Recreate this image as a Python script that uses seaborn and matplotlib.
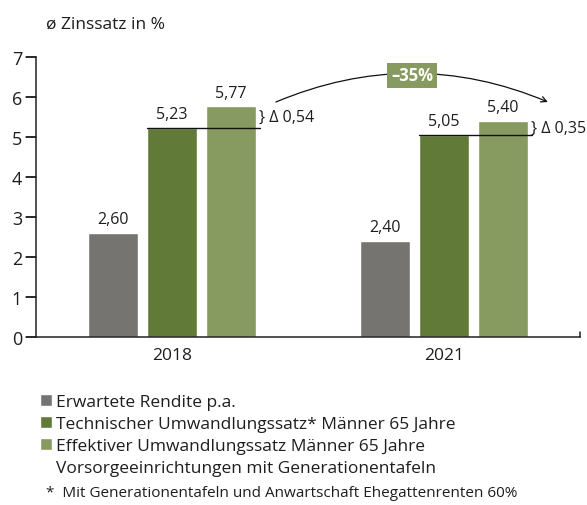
import matplotlib.pyplot as plt
from matplotlib.patches import Rectangle
import seaborn as sns
import pandas as pd

# Chart data
years = ['2018', '2021']
series = ['Erwartete Rendite p.a.',
          'Technischer Umwandlungssatz* Männer 65 Jahre',
          'Effektiver Umwandlungssatz Männer 65 Jahre\nVorsorgeeinrichtungen mit Generationentafeln']
rendite = [2.60, 2.40]
technisch = [5.23, 5.05]
effektiv = [5.77, 5.40]
delta_labels = ['} Δ 0,54', '} Δ 0,35']
change_label = '–35%'
title = 'ø Zinssatz in %'
footnote = '*  Mit Generationentafeln und Anwartschaft Ehegattenrenten 60%'
colors = ['#767470', '#617a37', '#879a5f']
text_color = '#1e1e1e'

df = pd.DataFrame({
    'Jahr': years * 3,
    'Serie': [s for s in series for _ in years],
    'Wert': rendite + technisch + effektiv,
})

sns.set_style('ticks')
plt.rcParams['font.family'] = ['Open Sans', 'DejaVu Sans']
plt.rcParams['text.color'] = text_color

fig = plt.figure(figsize=(5.87, 5.06), dpi=100)
ax = fig.add_axes([36 / 587, 168 / 506, 544 / 587, 280 / 506])
sns.barplot(data=df, x='Jahr', y='Wert', hue='Serie', palette=colors,
            width=0.65, gap=0.15, saturation=1, errorbar=None, ax=ax)

ax.set_xlim(-0.5, 1.5)
ax.set_ylim(0, 7)
ax.set_yticks(range(8))
ax.set_xlabel('')
ax.set_ylabel('')
for s in ['top', 'right']:
    ax.spines[s].set_visible(False)
for s in ['left', 'bottom']:
    ax.spines[s].set_color('#222222')
    ax.spines[s].set_linewidth(1.1)
ax.tick_params(axis='y', left=True, direction='out', length=7, width=1.1,
               color='#222222', labelsize=13, pad=3, labelcolor=text_color)
ax.tick_params(axis='x', bottom=False, length=0, labelsize=12.5, pad=7,
               labelcolor=text_color)
# draw the y tick marks explicitly so they always show
tick_len = 10 / 544
for yt in ax.get_yticks():
    ax.plot([-tick_len, 0], [yt, yt], color='#222222', lw=1.1,
            transform=ax.get_yaxis_transform(), clip_on=False)
# small closing tick at the right end of the x axis
ax.plot([1.5, 1.5], [0, 0.12], color='#222222', lw=1.1, clip_on=False)

# value labels
for cont in ax.containers:
    vals = [b.get_height() for b in cont]
    ax.bar_label(cont, labels=[f'{v:.2f}'.replace('.', ',') for v in vals],
                 padding=4, fontsize=11.5, color=text_color)

# reference line at technical rate and delta labels
for i in range(len(years)):
    dark = ax.containers[1][i]
    light = ax.containers[2][i]
    x0 = dark.get_x()
    x1 = light.get_x() + light.get_width() + 0.015
    ax.plot([x0, x1], [technisch[i], technisch[i]], color='#111111', lw=1)
    ax.text(x1 - 0.005, (technisch[i] + effektiv[i]) / 2, delta_labels[i],
            va='center', ha='left', fontsize=11.5)

# curved arrow with change box
ax.annotate('', xy=(1.382, 5.875), xytext=(0.382, 5.875),
            arrowprops=dict(arrowstyle='->', color='#111111', lw=0.9,
                            connectionstyle='arc3,rad=-0.21', shrinkA=0, shrinkB=0),
            annotation_clip=False)
ax.text(0.882, 6.54, change_label, ha='center', va='center', color='white',
        fontsize=12, fontweight='bold',
        bbox=dict(boxstyle='square,pad=0.22', fc=colors[2], ec='none'))

# legend
handles, labels = ax.get_legend_handles_labels()
ax.legend_.remove()
leg_labels = [l.split('\n')[0] for l in labels] + [labels[-1].split('\n')[1]]
leg_handles = list(handles) + [Rectangle((0, 0), 1, 1, alpha=0)]
fig.legend(leg_handles, leg_labels, loc='upper left',
           bbox_to_anchor=(40 / 587, 1 - 395 / 506), frameon=False,
           fontsize=12.5, handlelength=0.7, handleheight=0.7,
           handletextpad=0.25, labelspacing=0.33, borderpad=0, borderaxespad=0)

fig.text(46 / 587, 1 - 25 / 506, title, fontsize=12.5, va='center')
fig.text(46 / 587, 1 - 494 / 506, footnote, fontsize=11, va='center')

fig.savefig('out.png', dpi=100)
